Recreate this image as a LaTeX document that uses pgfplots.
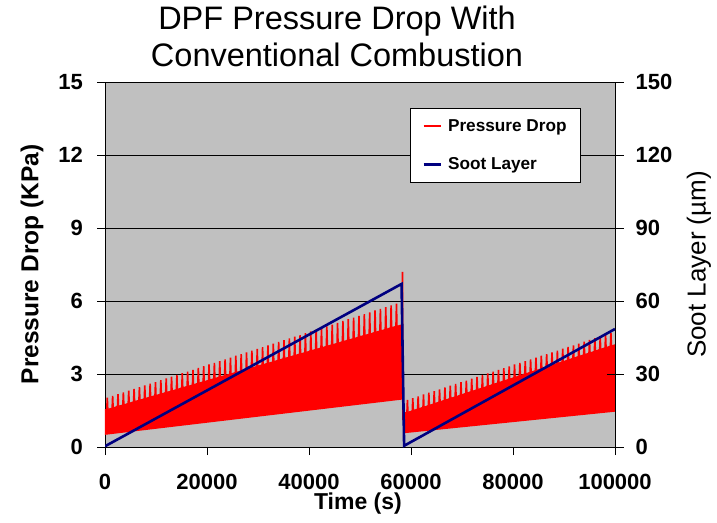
\documentclass[border=0pt]{standalone}
\usepackage{fontspec}
\setmainfont{Liberation Sans}
\usepackage{pgfplots}
\usepackage{pgfplotstable}
\pgfplotsset{compat=1.18}
\definecolor{bg}{RGB}{192,192,192}
\definecolor{soot}{RGB}{0,0,128}
\definecolor{pd}{RGB}{255,0,0}

\pgfplotstableread{
t y
0 1.52
350 1.53
450 2.03
550 1.53
1400 1.59
1500 2.10
1600 1.59
2450 1.66
2550 2.17
2650 1.66
3500 1.72
3600 2.24
3700 1.72
4550 1.78
4650 2.32
4750 1.78
5600 1.85
5700 2.39
5800 1.85
6650 1.91
6750 2.46
6850 1.91
7700 1.97
7800 2.53
7900 1.97
8750 2.04
8850 2.60
8950 2.04
9800 2.10
9900 2.67
10000 2.10
10850 2.16
10950 2.75
11050 2.16
11900 2.23
12000 2.82
12100 2.23
12950 2.29
13050 2.89
13150 2.29
14000 2.35
14100 2.96
14200 2.35
15050 2.42
15150 3.03
15250 2.42
16100 2.48
16200 3.10
16300 2.48
17150 2.54
17250 3.17
17350 2.54
18200 2.61
18300 3.25
18400 2.61
19250 2.67
19350 3.32
19450 2.67
20300 2.73
20400 3.39
20500 2.73
21350 2.80
21450 3.46
21550 2.80
22400 2.86
22500 3.53
22600 2.86
23450 2.92
23550 3.60
23650 2.92
24500 2.99
24600 3.67
24700 2.99
25550 3.05
25650 3.75
25750 3.05
26600 3.11
26700 3.82
26800 3.11
27650 3.18
27750 3.89
27850 3.18
28700 3.24
28800 3.96
28900 3.24
29750 3.30
29850 4.03
29950 3.30
30800 3.37
30900 4.10
31000 3.37
31850 3.43
31950 4.18
32050 3.43
32900 3.49
33000 4.25
33100 3.49
33950 3.56
34050 4.32
34150 3.56
35000 3.62
35100 4.39
35200 3.62
36050 3.68
36150 4.46
36250 3.68
37100 3.75
37200 4.53
37300 3.75
38150 3.81
38250 4.60
38350 3.81
39200 3.87
39300 4.68
39400 3.87
40250 3.94
40350 4.75
40450 3.94
41300 4.00
41400 4.82
41500 4.00
42350 4.06
42450 4.89
42550 4.06
43400 4.13
43500 4.96
43600 4.13
44450 4.19
44550 5.03
44650 4.19
45500 4.25
45600 5.10
45700 4.25
46550 4.32
46650 5.18
46750 4.32
47600 4.38
47700 5.25
47800 4.38
48650 4.44
48750 5.32
48850 4.44
49700 4.51
49800 5.39
49900 4.51
50750 4.57
50850 5.46
50950 4.57
51800 4.63
51900 5.53
52000 4.63
52850 4.70
52950 5.61
53050 4.70
53900 4.76
54000 5.68
54100 4.76
54950 4.82
55050 5.75
55150 4.82
56000 4.89
56100 5.82
56200 4.89
57050 4.95
57150 5.89
57250 4.95
58250 5.01
58330 7.20
58400 1.10
}\spikesA

\pgfplotstableread{
t y
58800 1.40
59200 1.40
59300 1.94
59400 1.40
60250 1.48
60350 2.01
60450 1.48
61300 1.55
61400 2.08
61500 1.55
62350 1.62
62450 2.16
62550 1.62
63400 1.69
63500 2.23
63600 1.69
64450 1.76
64550 2.30
64650 1.76
65500 1.84
65600 2.37
65700 1.84
66550 1.91
66650 2.45
66750 1.91
67600 1.98
67700 2.52
67800 1.98
68650 2.05
68750 2.59
68850 2.05
69700 2.12
69800 2.66
69900 2.12
70750 2.20
70850 2.73
70950 2.20
71800 2.27
71900 2.81
72000 2.27
72850 2.34
72950 2.88
73050 2.34
73900 2.41
74000 2.95
74100 2.41
74950 2.48
75050 3.02
75150 2.48
76000 2.56
76100 3.10
76200 2.56
77050 2.63
77150 3.17
77250 2.63
78100 2.70
78200 3.24
78300 2.70
79150 2.77
79250 3.31
79350 2.77
80200 2.84
80300 3.39
80400 2.84
81250 2.92
81350 3.46
81450 2.92
82300 2.99
82400 3.53
82500 2.99
83350 3.06
83450 3.60
83550 3.06
84400 3.13
84500 3.67
84600 3.13
85450 3.20
85550 3.75
85650 3.20
86500 3.28
86600 3.82
86700 3.28
87550 3.35
87650 3.89
87750 3.35
88600 3.42
88700 3.96
88800 3.42
89650 3.49
89750 4.04
89850 3.49
90700 3.56
90800 4.11
90900 3.56
91750 3.64
91850 4.18
91950 3.64
92800 3.71
92900 4.25
93000 3.71
93850 3.78
93950 4.33
94050 3.78
94900 3.85
95000 4.40
95100 3.85
95950 3.92
96050 4.47
96150 3.92
97000 4.00
97100 4.54
97200 4.00
98050 4.07
98150 4.61
98250 4.07
99100 4.14
99200 4.69
99300 4.14
100000 4.19
}\spikesB

\begin{document}
\begin{tikzpicture}
\useasboundingbox (-105pt,-75pt) rectangle (612pt,447pt);
\begin{axis}[
  at={(0pt,0pt)}, anchor=south west,
  scale only axis, width=510pt, height=365pt,
  xmin=0, xmax=100000, ymin=0, ymax=15,
  xtick={0,20000,40000,60000,80000,100000},
  ytick={0,3,6,9,12,15},
  scaled x ticks=false, scaled y ticks=false,
  xticklabel={\pgfmathprintnumber[fixed,precision=0,1000 sep={},assume math mode=true]{\tick}},
  yticklabel={\pgfmathprintnumber[fixed,precision=0,assume math mode=true]{\tick}},
  tick label style={font=\fontsize{22}{26}\selectfont\bfseries},
  yticklabel style={inner sep=0pt, anchor=east, xshift=-14pt},
  xticklabel style={inner sep=0pt, anchor=base, yshift=-34pt},
  tick align=outside, major tick length=8pt,
  xtick pos=bottom, ytick pos=left,
  ymajorgrids, grid style={black, line width=0.8pt},
  axis line style={black, line width=0.8pt},
  tick style={black, line width=0.8pt},
  axis background/.style={fill=bg},
  title={DPF Pressure Drop With\\Conventional Combustion},
  title style={font=\fontsize{32.5}{36.5}\selectfont, align=center, at={(0.455,1)}, anchor=south, inner sep=0pt, yshift=9pt},
  xlabel={Time (s)},
  xlabel style={font=\fontsize{23}{27}\selectfont\bfseries, at={(axis description cs:0.496,-0.171)}, anchor=base, inner sep=0pt},
  ylabel={Pressure Drop (KPa)},
  ylabel style={font=\fontsize{24.5}{28}\selectfont\bfseries, at={(axis description cs:-0.143,0.5)}, anchor=center, inner sep=0pt},
]
\addplot[fill=pd, draw=none] coordinates {(0,0.5) (0,1.52) (58350,5.02) (58350,1.95)};
\addplot[pd, line width=1.6pt] table[x=t, y=y] {\spikesA};
\addplot[fill=pd, draw=none] coordinates {(58800,0.57) (58800,1.40) (100000,4.19) (100000,1.45)};
\addplot[pd, line width=1.6pt] table[x=t, y=y] {\spikesB};
\end{axis}
\begin{axis}[
  at={(0pt,0pt)}, anchor=south west,
  scale only axis, width=510pt, height=365pt,
  xmin=0, xmax=100000, ymin=0, ymax=150,
  axis x line=none, axis y line*=right,
  ytick={0,30,60,90,120,150},
  scaled y ticks=false,
  yticklabel={\pgfmathprintnumber[fixed,precision=0,assume math mode=true]{\tick}},
  tick label style={font=\fontsize{22}{26}\selectfont\bfseries},
  yticklabel style={inner sep=0pt, anchor=west, xshift=12pt},
  tick align=center, major tick length=17pt,
  axis line style={black, line width=0.8pt},
  tick style={black, line width=0.8pt},
  ylabel={Soot Layer (µm)},
  ylabel style={font=\fontsize{26}{30}\selectfont, at={(axis description cs:1.1647,0.5)}, anchor=center, inner sep=0pt},
  legend style={at={(0.598,0.929)}, anchor=north west, draw=black, line width=0.8pt, fill=white,
    font=\fontsize{17.2}{20}\selectfont\bfseries, inner xsep=12pt, inner ysep=9pt, row sep=21pt},
  legend cell align=left,
]
\addlegendimage{pd, line width=1.2pt}
\addlegendentry{\hspace{4pt}Pressure Drop}
\addplot[soot, line width=2.6pt] coordinates {(0,0.3) (57700,66.5) (58150,67) (58650,0.5) (100000,48.5)};
\addlegendentry{\hspace{4pt}Soot Layer}
\end{axis}
\end{tikzpicture}
\end{document}
